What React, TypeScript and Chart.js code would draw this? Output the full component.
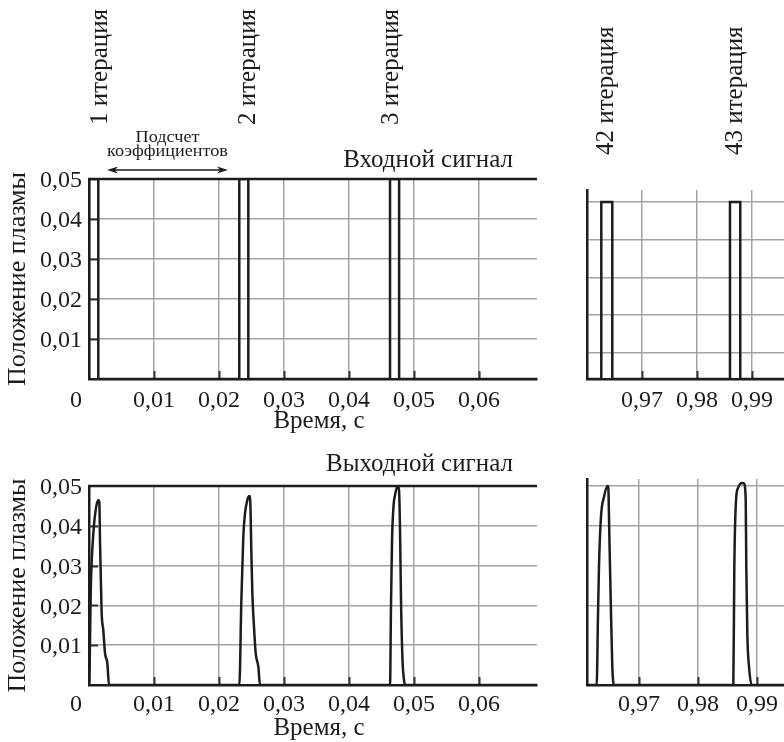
import React, { useEffect, useRef } from "react";
import { Chart, registerables } from "chart.js";

Chart.register(...registerables);

const W = 784;
const H = 742;

// ---------------- data ----------------
const INPUT_LEVEL = 0.05;
const IN_LEFT_START = [0, 0.02312, 0.04631];
const IN_LEFT_END = [0.00143, 0.02451, 0.04771];
const IN_RIGHT_START = [0.9626, 0.986];
const IN_RIGHT_END = [0.9646, 0.98787];

const OUT_L1_T = [0, 0.00031, 0.00067, 0.00103, 0.00143, 0.00159, 0.00169, 0.00185, 0.00195, 0.0022, 0.00246, 0.00282, 0.00308];
const OUT_L1_Y = [0, 0.0264, 0.0381, 0.044, 0.0465, 0.046, 0.0364, 0.0247, 0.018, 0.0138, 0.008, 0.0055, 0];
const OUT_L2_T = [0.02313, 0.02344, 0.02374, 0.024, 0.02436, 0.02466, 0.02482, 0.02497, 0.02513, 0.02538, 0.02564, 0.02605, 0.02631];
const OUT_L2_Y = [0, 0.0214, 0.0373, 0.0431, 0.0465, 0.0475, 0.0457, 0.0339, 0.023, 0.0147, 0.008, 0.0046, 0];
const OUT_L3_T = [0.04631, 0.04646, 0.04662, 0.04685, 0.04708, 0.04746, 0.04769, 0.04785, 0.048, 0.04823, 0.04846, 0.04862];
const OUT_L3_Y = [0, 0.02, 0.0364, 0.045, 0.0477, 0.05, 0.049, 0.039, 0.0213, 0.0063, 0.0013, 0];
const OUT_R1_T = [0.96283, 0.96305, 0.96322, 0.96356, 0.96407, 0.9647, 0.9648, 0.96497, 0.96521, 0.96548, 0.96577];
const OUT_R1_Y = [0, 0.0172, 0.0297, 0.0423, 0.0473, 0.0501, 0.0497, 0.0381, 0.0214, 0.0046, 0];
const OUT_R2_T = [0.98599, 0.98616, 0.98645, 0.98684, 0.98741, 0.9878, 0.98809, 0.98819, 0.98836, 0.98865, 0.9891];
const OUT_R2_Y = [0, 0.0297, 0.0465, 0.0497, 0.0508, 0.0507, 0.0465, 0.0297, 0.013, 0.0046, 0];

const X_LEFT_TICKS = [0, 0.01, 0.02, 0.03, 0.04, 0.05, 0.06];
const X_LEFT_LABELS = ["0", "0,01", "0,02", "0,03", "0,04", "0,05", "0,06"];
const X_RIGHT_TICKS = [0.97, 0.98, 0.99];
const X_RIGHT_LABELS = ["0,97", "0,98", "0,99"];
const Y_LEFT_TICKS = [0, 0.01, 0.02, 0.03, 0.04, 0.05];
const Y_LEFT_LABELS = ["", "0,01", "0,02", "0,03", "0,04", "0,05"];
const Y_TR_GRID = [0.0073, 0.0181, 0.0285, 0.0393, 0.05];
const Y_BR_GRID = [0.02, 0.04, 0.05];

const ITER_LEFT = ["1 итерация", "2 итерация", "3 итерация"];
const ITER_RIGHT = ["42 итерация", "43 итерация"];
const TITLE_IN = "Входной сигнал";
const TITLE_OUT = "Выходной сигнал";
const X_TITLE = "Время, с";
const Y_TITLE = "Положение плазмы";
const NOTE = ["Подсчет", "коэффициентов"];

// ---------------- style ----------------
const FONT = '"Liberation Serif", "Times New Roman", serif';
const INK = "#1c1c1c";
const GRID = "#a3a3a3";

type Pt = { x: number; y: number };

function stepSeries(starts: number[], ends: number[], level: number, xMin: number, xMax: number): Pt[] {
  const pts: Pt[] = [{ x: xMin, y: 0 }];
  starts.forEach((s, i) => {
    pts.push({ x: s, y: 0 }, { x: s, y: level }, { x: ends[i], y: level }, { x: ends[i], y: 0 });
  });
  pts.push({ x: xMax, y: 0 });
  return pts;
}

function pulseSeries(pulses: [number[], number[]][], xMin: number, xMax: number): Pt[] {
  const pts: Pt[] = [{ x: xMin, y: 0 }];
  pulses.forEach(([ts, ys]) => ts.forEach((t, i) => pts.push({ x: t, y: ys[i] })));
  pts.push({ x: xMax, y: 0 });
  return pts;
}

function txt(ctx: CanvasRenderingContext2D, s: string, x: number, y: number, size: number, align: CanvasTextAlign, base: CanvasTextBaseline = "alphabetic", rot = 0, sx = 1) {
  ctx.save();
  ctx.font = `${size}px ${FONT}`;
  ctx.fillStyle = INK;
  ctx.textAlign = align;
  ctx.textBaseline = base;
  ctx.translate(x, y);
  if (rot) ctx.rotate(rot);
  if (sx !== 1) ctx.scale(sx, 1);
  ctx.fillText(s, 0, 0);
  ctx.restore();
}

type Panel = {
  area: { l: number; t: number; r: number; b: number };
  xMin: number; xMax: number; yMin: number; yMax: number;
  xTicks: number[]; yTicks: number[];
  data: Pt[]; smooth: boolean;
  topBorder: boolean; innerY: boolean;
  decorate: (chart: any) => void;
};

const LEFT_X = { xMin: 0, xMax: 0.06892 };

function leftLabels(chart: any, titleText: string, titleDy: number, xlDy: number, xtDy: number) {
  const ctx = chart.ctx as CanvasRenderingContext2D;
  const a = chart.chartArea;
  const xs = chart.scales.x;
  const ys = chart.scales.y;
  Y_LEFT_TICKS.forEach((v, i) => {
    if (Y_LEFT_LABELS[i]) txt(ctx, Y_LEFT_LABELS[i], a.left - 7, ys.getPixelForValue(v) + 2, 24, "right", "middle");
  });
  X_LEFT_TICKS.forEach((v, i) => {
    if (i === 0) txt(ctx, X_LEFT_LABELS[i], a.left - 7, a.bottom + xlDy, 24, "right");
    else txt(ctx, X_LEFT_LABELS[i], xs.getPixelForValue(v), a.bottom + xlDy, 24, "center");
  });
  txt(ctx, X_TITLE, 319, a.bottom + xtDy, 25, "center");
  txt(ctx, Y_TITLE, 25, (a.top + a.bottom) / 2, 26, "center", "alphabetic", -Math.PI / 2);
  txt(ctx, titleText, 513, a.top - titleDy, 25, "right");
}

function rightLabels(chart: any, dy: number) {
  const ctx = chart.ctx as CanvasRenderingContext2D;
  const a = chart.chartArea;
  const xs = chart.scales.x;
  X_RIGHT_TICKS.forEach((v, i) => txt(ctx, X_RIGHT_LABELS[i], xs.getPixelForValue(v), a.bottom + dy, 24, "center"));
}

const ITER_LEFT_POS = [107, 255, 398];
const ITER_RIGHT_POS = [613, 741.5];

const PANELS: Panel[] = [
  {
    area: { l: 89, t: 179, r: 537, b: 379 },
    ...LEFT_X, yMin: 0, yMax: 0.05,
    xTicks: X_LEFT_TICKS, yTicks: Y_LEFT_TICKS,
    data: stepSeries(IN_LEFT_START, IN_LEFT_END, INPUT_LEVEL, 0, 0.06892), smooth: false,
    topBorder: true, innerY: true,
    decorate: (chart) => {
      const ctx = chart.ctx as CanvasRenderingContext2D;
      leftLabels(chart, TITLE_IN, 12, 28, 49);
      ITER_LEFT.forEach((s, i) => txt(ctx, s, ITER_LEFT_POS[i], 125, 25, "left", "alphabetic", -Math.PI / 2));
      txt(ctx, NOTE[0], 167.5, 142, 17, "center", "alphabetic", 0, 1.07);
      txt(ctx, NOTE[1], 167.5, 156, 17, "center", "alphabetic", 0, 1.07);
      // double arrow
      const y = 170, x1 = 107, x2 = 228;
      ctx.save();
      ctx.strokeStyle = INK; ctx.fillStyle = INK; ctx.lineWidth = 1.3;
      ctx.beginPath(); ctx.moveTo(x1 + 4, y); ctx.lineTo(x2 - 4, y); ctx.stroke();
      ctx.beginPath(); ctx.moveTo(x1, y); ctx.lineTo(x1 + 11, y - 3.5); ctx.lineTo(x1 + 8, y); ctx.lineTo(x1 + 11, y + 3.5); ctx.closePath(); ctx.fill();
      ctx.beginPath(); ctx.moveTo(x2, y); ctx.lineTo(x2 - 11, y - 3.5); ctx.lineTo(x2 - 8, y); ctx.lineTo(x2 - 11, y + 3.5); ctx.closePath(); ctx.fill();
      ctx.restore();
    },
  },
  {
    area: { l: 587, t: 190, r: 784, b: 379 },
    xMin: 0.96, xMax: 0.99582, yMin: 0, yMax: 0.0534,
    xTicks: X_RIGHT_TICKS, yTicks: Y_TR_GRID,
    data: stepSeries(IN_RIGHT_START, IN_RIGHT_END, INPUT_LEVEL, 0.96, 0.99582), smooth: false,
    topBorder: false, innerY: false,
    decorate: (chart) => {
      const ctx = chart.ctx as CanvasRenderingContext2D;
      rightLabels(chart, 28);
      ITER_RIGHT.forEach((s, i) => txt(ctx, s, ITER_RIGHT_POS[i], 155, 25, "left", "alphabetic", -Math.PI / 2));
    },
  },
  {
    area: { l: 89, t: 486, r: 537, b: 685 },
    ...LEFT_X, yMin: 0, yMax: 0.05,
    xTicks: X_LEFT_TICKS, yTicks: Y_LEFT_TICKS,
    data: pulseSeries([[OUT_L1_T, OUT_L1_Y], [OUT_L2_T, OUT_L2_Y], [OUT_L3_T, OUT_L3_Y]], 0, 0.06892), smooth: true,
    topBorder: true, innerY: true,
    decorate: (chart) => leftLabels(chart, TITLE_OUT, 15, 26, 50),
  },
  {
    area: { l: 587, t: 479, r: 784, b: 685 },
    xMin: 0.96119, xMax: 0.99458, yMin: 0, yMax: 0.0518,
    xTicks: X_RIGHT_TICKS, yTicks: Y_BR_GRID,
    data: pulseSeries([[OUT_R1_T, OUT_R1_Y], [OUT_R2_T, OUT_R2_Y]], 0.96119, 0.99458), smooth: true,
    topBorder: false, innerY: false,
    decorate: (chart) => rightLabels(chart, 26),
  },
];

function PanelChart({ p }: { p: Panel }) {
  const ref = useRef<HTMLCanvasElement | null>(null);
  useEffect(() => {
    if (!ref.current) return;
    const plugin = {
      id: "panelDecor",
      beforeDatasetsDraw(chart: any) {
        const ctx = chart.ctx as CanvasRenderingContext2D;
        const a = chart.chartArea;
        ctx.save();
        ctx.strokeStyle = "#333";
        ctx.lineWidth = 2;
        ctx.beginPath();
        p.xTicks.forEach((v) => {
          if (v <= p.xMin) return;
          const x = Math.round(chart.scales.x.getPixelForValue(v)) + 0.5;
          ctx.moveTo(x, a.bottom);
          ctx.lineTo(x, a.bottom - 8);
        });
        if (p.innerY) {
          p.yTicks.forEach((v) => {
            if (v <= p.yMin || v >= p.yMax) return;
            const y = Math.round(chart.scales.y.getPixelForValue(v)) + 0.5;
            ctx.moveTo(a.left, y);
            ctx.lineTo(a.left + 9, y);
          });
        }
        ctx.stroke();
        if (p.topBorder) {
          ctx.strokeStyle = INK;
          ctx.lineWidth = 2.5;
          ctx.beginPath();
          ctx.moveTo(a.left - 1, a.top);
          ctx.lineTo(a.right, a.top);
          ctx.stroke();
        }
        ctx.restore();
      },
      afterDraw(chart: any) {
        p.decorate(chart);
      },
    };
    const chart = new Chart(ref.current, {
      type: "scatter",
      data: {
        datasets: [
          {
            data: p.data,
            showLine: true,
            borderColor: INK,
            borderWidth: 2.5,
            pointRadius: 0,
            borderJoinStyle: "miter",
            tension: p.smooth ? 0.4 : 0,
            cubicInterpolationMode: p.smooth ? "monotone" : "default",
          } as any,
        ],
      },
      options: {
        responsive: false,
        animation: false,
        devicePixelRatio: 1,
        events: [],
        layout: { padding: { left: p.area.l, top: p.area.t, right: W - p.area.r, bottom: H - p.area.b } },
        plugins: { legend: { display: false }, tooltip: { enabled: false } },
        scales: {
          x: {
            type: "linear",
            min: p.xMin,
            max: p.xMax,
            afterBuildTicks: (s: any) => { s.ticks = p.xTicks.map((v) => ({ value: v })); },
            afterFit: (s: any) => { s.height = 0; },
            ticks: { display: false },
            grid: { color: GRID, lineWidth: 1.5, drawTicks: false },
            border: { color: INK, width: 2.5 },
          },
          y: {
            type: "linear",
            min: p.yMin,
            max: p.yMax,
            afterBuildTicks: (s: any) => { s.ticks = p.yTicks.map((v) => ({ value: v })); },
            afterFit: (s: any) => { s.width = 0; },
            ticks: { display: false },
            grid: { color: GRID, lineWidth: 1.5, drawTicks: false },
            border: { color: INK, width: 2.5 },
          },
        },
      } as any,
      plugins: [plugin],
    });
    return () => chart.destroy();
  }, [p]);
  return <canvas ref={ref} width={W} height={H} style={{ position: "absolute", left: 0, top: 0 }} />;
}

export default function App() {
  return (
    <div style={{ position: "absolute", left: 0, top: 0, width: W, height: H, overflow: "hidden", background: "#fff" }}>
      {PANELS.map((p, i) => (
        <PanelChart key={i} p={p} />
      ))}
    </div>
  );
}
